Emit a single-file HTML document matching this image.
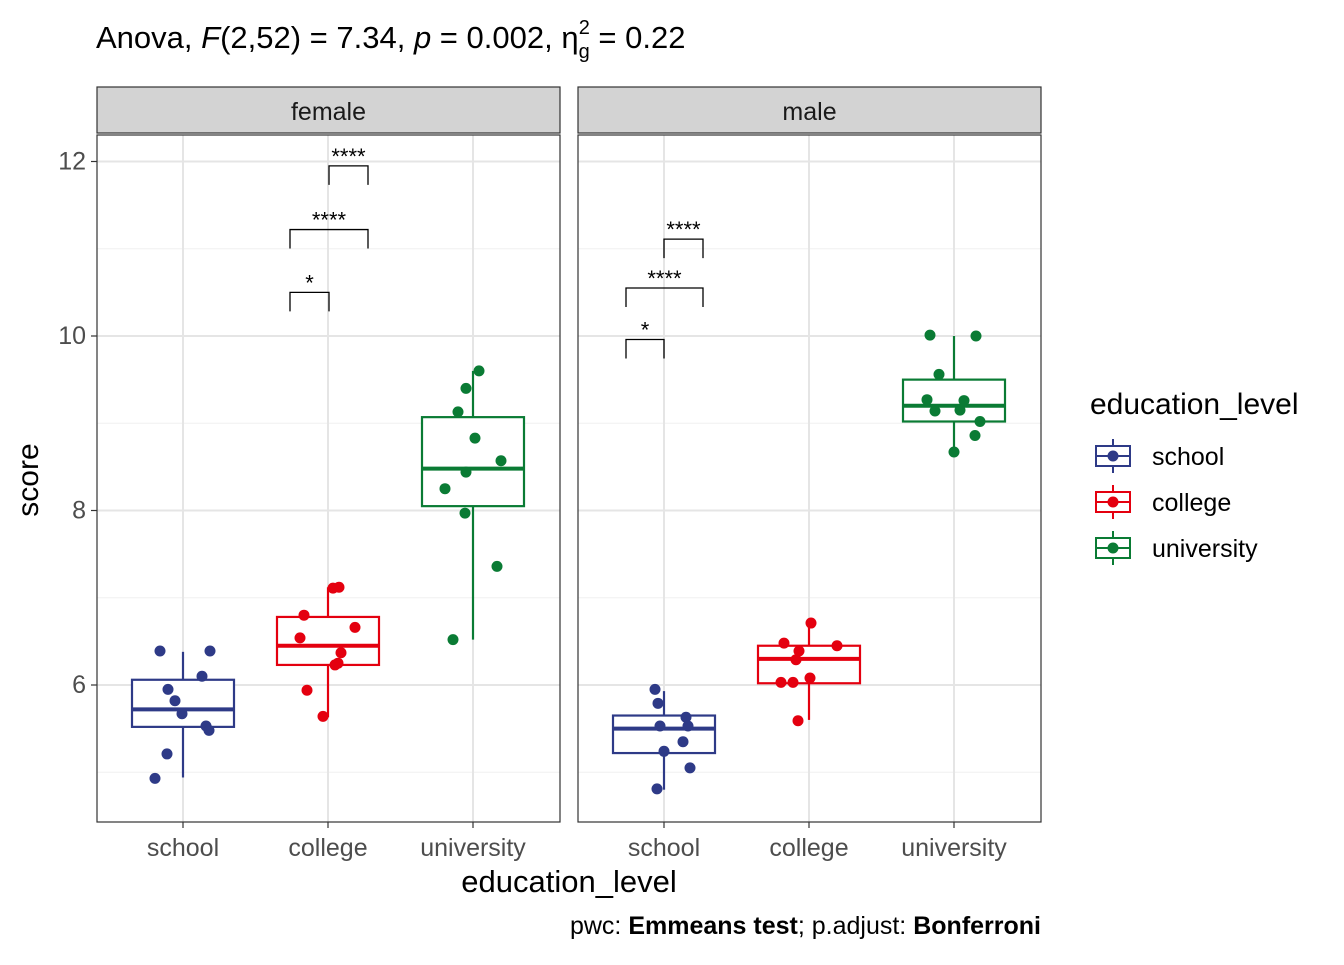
<!DOCTYPE html>
<html><head><meta charset="utf-8"><style>
body{margin:0;background:#fff;font-family:"Liberation Sans",sans-serif}
svg text{font-family:"Liberation Sans",sans-serif}
</style></head><body>
<svg id="c" width="1344" height="960" xmlns="http://www.w3.org/2000/svg">
<text x="96" y="48" font-size="31" fill="#000">Anova, <tspan font-style="italic">F</tspan>(2,52) = 7.34, <tspan font-style="italic">p</tspan> = 0.002, η<tspan font-size="20" dy="10">g</tspan><tspan font-size="20" dx="-11" dy="-24">2</tspan><tspan dy="14"> = 0.22</tspan></text>
<g id="plot"></g>
<text x="38" y="480" font-size="30" transform="rotate(-90 38 480)" text-anchor="middle">score</text>
<text x="569" y="892" font-size="31" text-anchor="middle">education_level</text>
<text x="1041" y="934" font-size="25" text-anchor="end">pwc: <tspan font-weight="bold">Emmeans test</tspan>; p.adjust: <tspan font-weight="bold">Bonferroni</tspan></text>
<g id="legend"></g>
</svg>
<script>
const categories=["school","college","university"];
const panels=["female","male"];
const colors=["#2E3A87","#E4000F","#0A7B34"];
// box stats per panel per category: [lowerWhisker,q1,median,q3,upperWhisker]
const boxFemale=[[4.94,5.52,5.72,6.06,6.38],[5.63,6.23,6.45,6.78,7.12],[6.52,8.05,8.48,9.07,9.6]];
const boxMale=[[4.8,5.22,5.5,5.65,5.93],[5.6,6.02,6.3,6.45,6.72],[8.67,9.02,9.2,9.5,10.0]];
const ptsFemale=[[6.39,5.95,5.82,5.67,6.39,6.1,5.53,5.48,5.21,4.93],[6.8,6.54,6.66,6.37,6.25,6.23,5.94,5.64,7.11,7.12],[9.6,9.4,9.13,8.83,8.57,8.44,8.25,7.97,7.36,6.52]];
const ptsMale=[[5.95,5.79,5.53,5.63,5.53,5.24,5.35,5.05,4.81],[6.71,6.48,6.45,6.39,6.29,6.03,6.03,6.08,5.59],[10.01,10.0,9.56,9.27,9.26,9.14,9.15,9.02,8.86,8.67]];
const jitFemale=[[-23,-15,-8,-1,27,19,23,26,-16,-28],[-24,-28,27,13,10,7,-21,-5,5,11],[6,-7,-15,2,28,-7,-28,-8,24,-20]];
const jitMale=[[-9,-6,-4,22,24,0,19,26,-7],[2,-25,28,-10,-13,-28,-16,1,-11],[-24,22,-15,-27,10,-19,6,26,21,0]];
const yTicks=[6,8,10,12];
const sigLabels=[["*","****","****"],["*","****","****"]];
const sigY=[[10.5,11.22,11.95],[9.96,10.55,11.11]];
const sigX=[[[290,329],[290,368],[329,368]],[[626,664],[626,703],[664,703]]];

const NS="http://www.w3.org/2000/svg";
function mk(p,t,a){const e=document.createElementNS(NS,t);for(const k in a)e.setAttribute(k,a[k]);p.appendChild(e);return e;}
const yv=v=>685-(v-6)*87.25;
const pl=[97,578],pw=463,ptop=135,pbot=822;
const g=document.getElementById('plot');
const boxes=[boxFemale,boxMale],pts=[ptsFemale,ptsMale],jit=[jitFemale,jitMale];
panels.forEach((pn,pi)=>{
  const x0=pl[pi];const xc=i=>x0+86+i*145;
  const bg=mk(g,'rect',{x:x0,y:ptop,width:pw,height:pbot-ptop,fill:'#fff'});
  
  
  [5,7,9,11].forEach(v=>mk(g,'line',{x1:x0,x2:x0+pw,y1:yv(v),y2:yv(v),stroke:'#f0f0f0','stroke-width':1}));
  yTicks.forEach(v=>mk(g,'line',{x1:x0,x2:x0+pw,y1:yv(v),y2:yv(v),stroke:'#e5e5e5','stroke-width':2}));
  categories.forEach((c,i)=>mk(g,'line',{x1:xc(i),x2:xc(i),y1:ptop,y2:pbot,stroke:'#e5e5e5','stroke-width':2}));
  const st=mk(g,'rect',{x:x0,y:87,width:pw,height:46,fill:'#d3d3d3',stroke:'#333','stroke-width':1.2});
  
  
  const sl=mk(g,'text',{x:x0+pw/2,y:120,'font-size':25,'text-anchor':'middle',fill:'#1a1a1a'});sl.textContent=pn;
  
  
  categories.forEach((c,i)=>{
    const b=boxes[pi][i],x=xc(i),col=colors[i];
    const bx=mk(g,'g',{});
    
    
    mk(bx,'line',{x1:x,x2:x,y1:yv(b[0]),y2:yv(b[1]),stroke:col,'stroke-width':2.2});
    mk(bx,'line',{x1:x,x2:x,y1:yv(b[3]),y2:yv(b[4]),stroke:col,'stroke-width':2.2});
    mk(bx,'rect',{x:x-51,y:yv(b[3]),width:102,height:yv(b[1])-yv(b[3]),fill:'#fff',stroke:col,'stroke-width':2.2});
    mk(bx,'line',{x1:x-51,x2:x+51,y1:yv(b[2]),y2:yv(b[2]),stroke:col,'stroke-width':4});
    pts[pi][i].forEach((v,k)=>{
      const p=mk(g,'circle',{cx:x+jit[pi][i][k],cy:yv(v),r:5.5,fill:col});
      
      
    });
    const tl=mk(g,'text',{x:x,y:856,'font-size':25,'text-anchor':'middle',fill:'#4d4d4d'});tl.textContent=c;
    
    
    mk(g,'line',{x1:x,x2:x,y1:pbot,y2:pbot+6,stroke:'#333','stroke-width':1.2});
  });
  sigLabels[pi].forEach((s,k)=>{
    const y=yv(sigY[pi][k]),[a,b2]=sigX[pi][k];
    const br=mk(g,'path',{d:`M${a},${y+19}V${y}H${b2}V${y+19}`,fill:'none',stroke:'#000','stroke-width':1.3});
    
    
    const t=mk(g,'text',{x:(a+b2)/2,y:y-2,'font-size':22,'text-anchor':'middle'});t.textContent=s;
    
    
  });
  mk(g,'rect',{x:x0,y:ptop,width:pw,height:pbot-ptop,fill:'none',stroke:'#333','stroke-width':1.2});
});
yTicks.forEach(v=>{
  mk(g,'line',{x1:91,x2:97,y1:yv(v),y2:yv(v),stroke:'#333','stroke-width':1.2});
  const t=mk(g,'text',{x:86,y:yv(v)+8,'font-size':25,'text-anchor':'end',fill:'#4d4d4d'});t.textContent=v;
  
  
});
const L=document.getElementById('legend');
const lt=mk(L,'text',{x:1090,y:414,'font-size':30});lt.textContent='education_level';


categories.forEach((c,i)=>{
  const y=456+i*46,col=colors[i];
  const e=mk(L,'g',{});
  
  
  mk(e,'line',{x1:1113,x2:1113,y1:y-17,y2:y+17,stroke:col,'stroke-width':2});
  mk(e,'rect',{x:1096,y:y-10,width:34,height:20,fill:'#fff',stroke:col,'stroke-width':2});
  mk(e,'line',{x1:1096,x2:1130,y1:y,y2:y,stroke:col,'stroke-width':2});
  mk(e,'circle',{cx:1113,cy:y,r:5.5,fill:col});
  const t=mk(e,'text',{x:1152,y:y+9,'font-size':25});t.textContent=c;
});
</script>
</body></html>
